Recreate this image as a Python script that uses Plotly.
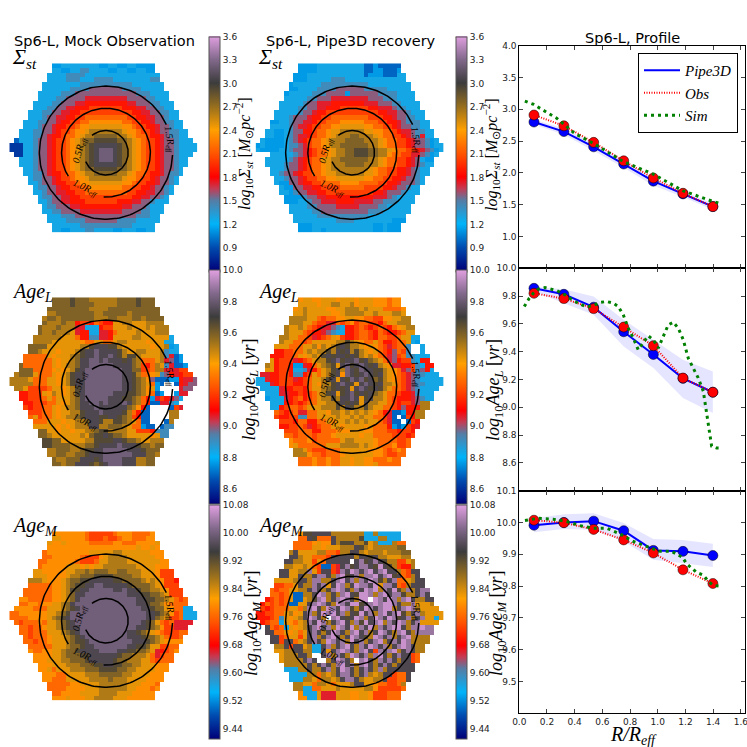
import numpy as np
import plotly.graph_objects as go

W = 747
CODES = "abcdefghijklmnopqrst"

SIGMA_OBS = ["ddeeeeeeeeddeeddeedddd","eeddeeffeeeeddeeddeedd","eeeeffffeeeeeeeeeeeeeeee","eeeefffeeeffffeeeeeeeeff",
"eeeeeeeefffffffffffeeeeeee","eeeeeeffffgggggggffffeeeee","eeeeefffgggggggggggggfffeeee","eeeeffgggghhhhhhhhhggggffeee",
"eeeeffggghhiiiiiiiiihhgggffeee","eeeffgghhiiijjjjjjjiiihhggffee","eeeffgghhiijjjjjjjjjjjiihhggffee","eeefgghhiijjkkkkkkkkkjjiihhggfee",
"eeeffgghiijjkklllllllkkjjiihggffee","eeefgghiijjkllmmmmmmmllkjjiihggfee","eeeffgghijjkllmnnnnnnnmllkjjihggffee","eeeffghiijkklmnnooooonnmlkkjiihgffee",
"ceeefgghijjklmnoopppppoonmlkjjihggfeee","bbbeefgghijjklmnopqqqqqponmlkjjihggfeeee","bbbeefgghijjklmnopqrrrqponmlkjjihggfeeee","bbeefgghijjklmnopqrrrqponmlkjjihggfeee",
"eeefgghijjklmnopqrrrqponmlkjjihggfee","eeefgghijjklmnopqqqqqponmlkjjihggfee","eefgghijjklmnoopppppoonmlkjjihggfe","eeffghiijkklmnnooooonnmlkkjiihgffe",
"effgghijjkllmnnnnnnnmllkjjihggfe","eefgghiijjkllmmmmmmmllkjjiihggfe","effgghiijjkklllllllkkjjiihggfe","eefgghhiijjkkkkkkkkkjjiihhggfe",
"effgghhiijjjjjjjjjjjiihhggfe","eefgghhiiijjjjjjjiiihhggfeee","effggghhiiiiiiiiihhgggfeee","eeffgggghhhhhhhhhggggffeee",
"eeefffgggggggggggggfffee","eeeeffffgggggggffffeeeee","eeeeeefffffffffffeeeee","eeddeeeffeeeeddeeeddee"]

SIGMA_P3D = ["ddddeeeeeeeeeeccdccccc","ddddeeeeeeeeeeccddcccd","dddeeeeeeeeeeeecdddcccee","dddeeeeefffeeeeeeeeeeeee",
"deeeeeeffffffffffeeeeeeeee","ddeeeeffffggggggfffffeeeee","deeeeefffggggdggggggffffeeee","eeeeeffggghhhhhhhhgggfffeeee",
"eeeeefgghhhiiiiiiihhhgggffeeee","eeeeffgghhiiijjjjjjiihhhgffeee","eeeeefgghiijjjjjjjjjjjiihhggfeee","eeefggghiijjkkkkkkkkjjjiihggffee",
"ddeefgghhijjkkklllllkkkjjiihgfffee","eeeefghhijjkkllmmmmmllkkjjihggffee","eeddefggiijkklmmnnnnnmmllkkjihhgffee","eeddefghhijkklmnnnoonnnmlkkjjihgfhee",
"eddddefghijkklmnnnoooonnnmlkkjjihggfde","deddddeffghjkklmnnoooooonnmlkkjjihggfdee","eddddeefgghijkklmnnoopppoonnmlkkjjihgfde","..eeeeefghijkklmnnoopppoonnlkkjjhhgfde",
"eeeeefghijkkmmnnoooooonnmlkkjjihgedd","eeeefgghijkklmnnnoooonnnmlkkjjihgfee","eeefgghijkklmnnnnnnnnmlkkjjiihgfee","eefgghijjkklmmnnnnnnmmlkkjjiihgfee",
"eefgghijjkkllmmmmmmllkkjjiihggfe","eddgghiijjkkkkllllkkkkjjiihgggfe","eddgghhiijjjjkkkkkjjjjiihggfee","eedfgghhiijjjjjjjjjjiihgggfeee",
"ddddfgghhiiiiiiiiiihhhgfeeee","dddeefgghhhiiiihhhhggfffeeee","eeeeffgggghhhhhggggffeeeee","eeeeeffggggggggggfffeeeeee",
"eeeeefffffffffffeeeeeeee","eeeeeeeeeffffeeeeeeeeddd","dddeeeeeeeeeeeeeddeddd","dddeedeeeeeeeeeeddeddd"]

AGEL_OBS = ["oooopooonnnnnnoooopooo","oooopoooonnnnnoooopooo","ooooooooonnnnooooooooooo","nnoooooooonnooooonoooooo",
"noonooooooonnnoonnnoonoooo","onnnonnijjikjiimmnnmmmnnnn","onnnonnnhheeeijjmmmnmmmnmnnn","onnonnnmhiieehhikmmmmnmmmnnn",
"nnnnnnmmmkiiffhhimmmmnnmmmmmme","nnnnmmmmmmlkkmmkkmnnmmmmlmmmee","oooommmmmmmnnpqqqppnmmmmmmlmmnde","oonmmmlmmmnpqqrqqqqpnmmnnmmmnfee",
"kkkkkmlmmmnopqqrqqrqpnppnmmmmnfhcd","kkkkkkmlmmnoqqrrqrqqqpqonkkkmnhgcd","okkkkkkmlmnnoqqrrrrrqqqqonjiknmfhccd","oookkkklmlmnpqrrrrrrrrqqoojjknnhhhjj",
"nooomkkkmlmnpqqrrrrrrrrqqpnkklmfgihijj","nnnnmkkkmmlmnpqqrrrrrrrrqqponlgcccddihhg","nnnnnkkkmmlmnpqqrrrrrrrrqqponmkdc..cihgg","nnmjjjjkmmlmnpqrrrrrrrrqqponlmd....hgg",
"iijjjmlnmlmnpqrrrrrrqqqpponlkcd..dhh","iijjjkmkmmmnoqrrrrrqqqpponkidhjihge","iijjjkkmlmnoqqrrqrqqqrqonkicchhfe","jijjkkmlmnnoqqqrqqqqqqonlic....cjh",
"jjjkkmlmmnnpqqqrqqqqpnkicc....nn","kmjkkmlmnnopqqqppqqponjicc....nn","kkkmmmlmmnnoqqpnnpponmkcc...cn","mmmmmlmlmnnnqqnnooonmkkdcc.cff",
"oommlmmlmmnnoppnnnnmmjjjifff","oonmmmmmmnmoppqpoonmmmmmlmff","ppoommmmmnnppppqqpoonmmnnn","ppoooonnnoopqqqqrqqqpoonoo",
"nnooonnoppqqrrrrrqqqpooo","nnoonnoopqqqrrrrrrqqqoon","onnoooqqqpqrrrrqqqnnoo","oonooqqqpopqrrrqqqnnoo"]

AGEL_P3D = ["lmmllmmmlmmmlmmmlllkll","mmmmlmmnnmmnlmmmlllkll","lmnmmmmllmmnnnmnmmmkkkkl","mmnmmmmmllmnnnnmmnmmmnnm",
"nnnnmmkjkkllmmllkkjjllmmnn","nnnmmkjjhhkjkljkkjjikmmnnn","nmmnmkjihhgfeiijkjijkjiklmnn","nmmmkjiihgfeeiijkkjikjiijkmm",
"nnmmkkjhijkmljiijkkjikkjjkmmee","nmmkkjkmmmmmnnpnmlkkmkiijkkmed","mmmkkkmmnlnmnpqpnnmlmlkjhjkkf..e","iijjkkmnmnnpnqpqnpnmlmkjigkjf..e",
"iiijjkmlmnmpqpqqpqpnmnlkjhgjkffeee","mijjjhijkmnnpqrpqqrpqonmkhgijjfeii","nmijjiddhikmnopmqrpqrqpqnmlhhiijfeii","mmijjieefhikmnpqnrqprqqppnmlkhgjfgie",
"hhiijjiffijmkmnpqlrqpqrqpqnmlkjhgffeee","eehiijjjhijkmmnpqmqprqrpqopnmlkjhgfeeeee","eeehijjjiijkmlnnpqrqpmqrqpqnnmkjhgffeeee","eeeehiijjikmmnopqpqmqrqpqpnmkkjhgfeeee",
"eeehhiijijkmnpqmpqrpqpqonmkkjiihfeee","deeehijkijkmnnpnqqrqmpqnnmkjiiihgfee","eeeiijijkkmmnnpqpqpmqnnmmkjijjhgnn","eeijkkjkmmmnnnpnqpnnpnmmkkjigiiinn",
"kjijkhhkkmmlnnmnmnmnmlkihccdiinn","jiijjffkkmmmmnmmnmnmmkkjhc.cjinn","jjjikkiikkmlmmnmnmnmmkjhcc.cji","iijjkjhijkkmmlmmmmlmkkkidcdjih",
"jjjkkkiikkklllmmmllkkkjjijji","kkjkkkjkkklmmmmmlmmkkkkjjjij","lkkkljkkkkkmnnmmmmlkkkkjjk","lmkkkkkkmmmnnnnmnmlkkkljjk",
"nnmkjjjkkkmmmmmmlllkjklk","nnnlkkjkkklmmmmmmllkjjkk","kkklkklkkmmlmmllkkklkk","kkklkklkkmmlmmllmkkkkk"]

AGEM_OBS = ["lllllllkjjjjjklllkkkkl","mmlllllkjjjkjjkllkkkll","mllmlllllkkkkkllkkkllllm","lllllllllllllllllllmllml",
"klllllllllmmmmmnnmmmmmmlll","kkllllllkjjjlmnnnnmmmmmmll","kkllllllkjjjkmmnnnnmmmmmmmll","klllllmmmlmlmmnnnnnnnmmmmlll",
"mmlllllmmnnonooonnoonnnmmmljjj","mmmllllmnnoooppppoooonnmmmljjj","nnnmlllmnooppqqqqqppoooonmnmljji","kkkkkllmnoppqqrrqqqqqpoooonmljjj",
"kkkkkkllmnppqqrrrrrqqrqqpoonnmljjj","kkkkkkllmnoqqrrrrrrrrrqqqppoonmjjj","llkkkkkllmnoqrrrrrrrrrrrrqqppoonmkjk","kkllkllmmnoqrrrrrrrrrrrrrqqpoonlkkkk",
"llllkkkmmmnopqrrrrrrrrrrrrrqqpoomlkkee","kkllllllmmnoprrrrrrrrrrrrrrrrqqponljkeee","kkkkllllmnopqrrrrrrrrrrrrrrrrqqonmjjkeee","kjkkklkmmnopqrrrrrrrrrrrrrrqpomkjkhhhh",
"kkjkklmmnopqqrrrrrrrrrrrrqqponljjhhh","kkjkkkmmmnopqrrrrrrrrrrqqponmlkjjjkk","kjkkklmmmnopqrrrrrrrrrqqqpoonmkjjk","kkjkklmmmnoppqrrrrrrrrrqqqponmllll",
"kkkkkmmmnoopqqrrrrrrrqqppommjjkk","lkkllmmnoopqqqqrrrrqqppoonmhijkl","llllmmnoooppqqqqqqpoonnnmkhjkk","lllmmmnnooopqqqqqpoonnnmmkjkkk",
"lllmmmnnnoooppqqppoonnmmmlll","llmkmmmnnnoooppppoonnmmmmlll","lllkkmmmmnnnooooonnmmmmlll","llkkkmmmmmnnnnonnnmmmmllll",
"kkkkkllmmmmnnnnnnmmmlllk","kkkkllllmmmnnnnnnmmlllkl","kkllllmmmmnnnnmmmlllll","lllmlllmmnnnnmmmllllll"]

AGEM_P3D = ["lppqqqqnnnnnnneeneeeee","kkqpkkkqnnnnnpeeenneee","kkkklmllqnppqnnpmneeenkk","kkkkmmlmmmnnnqpnmnnnnnoo",
"nqmmmmnnkkjnnqqnmnnnmnnnoo","qqnmmkkkjqqqqqnqqpqnnmmmnn","qqnnmmjmkqqqqq.qspqsqpnnjjmn","nnmmnmkjccjhqspqssqptqpnjiin",
"qqmmnnsmjqqjhsqtsqstqstqqnkjqq","qqmmqnnqssqnstpqsnsstqstpqkjnq","mmmmnqqnssnnqstqsnsqtspnqskkmnqq","jjkkmqnnsqsmqtsnqtssqtmssqkjnqqq",
"kjkkmmnnqsqnpstsqnsqtstnsqtpnsnqss","kkjkmccnnqtsnqnstqpttsnstqsspnnqsq","ijkjkmccmnpstnqstsqntt.tsqtsnstqnnqq","ikjkjkccmmqstsqntsqttpqstst tsqnnsmmmn".replace(" ",""),
"jijkkkmmknstqntsqtspnqtsqsttnqstsnmmmmm"[:38],"iijjkkmnlmqsnqtstqsnqptqsnstqstpnqsnmmmm","iiijkfmlmnqtsqn.stqpqtsnqtsqtspqsnqsmmem","ijkkemlkmnsqtsnqstqnsptqstnsqtsnqsmmmm",
"qkjkemlmnqstqsntsqtnsqtnsqsttqnsstss"[:36],"qqkkmlmkmqsqnqtsqnstqsnqtsqnstqnssss","qqjkmmjmqsnqstqnqtsqpntsqsnqstnnnn","qqjqqkmnqsqntsqsntqsnqstnqsqtsnnnn",
"nnqjqqmneeqsnqstqnsqtsqsnqstsqnn","mmnnqqnneeqmqstsqnstqjsqstnqsqnn","mnnnqqn..qsnsqntsqsnstqnqsqqjk","mnnnnqsq..nqtsqn.stqnsqsqnqqjk",
"nnnnnqnqsqnstqsnstqnqsqnqqqq","eeennqnnqsnqtsqnqsqnsnqqqqqq","eeeennknmnqssqnqsnmnqqjkkq","eeennmknnmnqssqnmmnnqjjkkq",
"nnmmknnmkmmmnqqmmlkkjjkn","nneekkmmmnmmmmmnnljjjjjk","leeemhhhmmmllmmljjjkkk","lleemhhhmmmllmmljjjkkk"]

SIGMA_RANGE = (0.6, 3.6)
AGEL_RANGE = (8.5, 10.0)
AGEM_RANGE = (9.41, 10.08)
SIGMA_TICKS = [0.9, 1.2, 1.5, 1.8, 2.1, 2.4, 2.7, 3.0, 3.3, 3.6]
AGEL_TICKS = [8.6, 8.8, 9.0, 9.2, 9.4, 9.6, 9.8, 10.0]
AGEM_TICKS = [9.44, 9.52, 9.60, 9.68, 9.76, 9.84, 9.92, 10.00, 10.08]

COLORS = [[0, "rgb(0,0,120)"], [0.1, "rgb(0,75,175)"], [0.2, "rgb(0,180,250)"], [0.3, "rgb(85,125,165)"],
          [0.35, "rgb(195,60,85)"], [0.4, "rgb(255,0,0)"], [0.5, "rgb(255,85,0)"], [0.6, "rgb(255,160,0)"],
          [0.7, "rgb(150,110,30)"], [0.8, "rgb(60,60,60)"], [0.9, "rgb(130,105,140)"], [1, "rgb(225,160,225)"]]

R_PROFILE = [0.106, 0.322, 0.537, 0.754, 0.968, 1.182, 1.398]

P1_PIPE = [2.80, 2.65, 2.41, 2.14, 1.87, 1.67, 1.47]
P1_OBS = [2.91, 2.74, 2.48, 2.19, 1.92, 1.68, 1.47]
P1_UP = [2.84, 2.70, 2.47, 2.19, 1.92, 1.71, 1.52]
P1_LOW = [2.76, 2.60, 2.35, 2.08, 1.80, 1.62, 1.42]
P1_SIM_R = [0.04, 0.10, 0.27, 0.40, 0.535, 0.75, 0.968, 1.18, 1.40, 1.46]
P1_SIM = [3.13, 3.08, 2.86, 2.62, 2.465, 2.18, 1.98, 1.72, 1.55, 1.515]

P2_PIPE = [9.856, 9.813, 9.72, 9.543, 9.38, 9.208, 9.108]
P2_OBS = [9.82, 9.782, 9.71, 9.577, 9.443, 9.21, 9.108]
P2_UP = [9.868, 9.85, 9.797, 9.63, 9.486, 9.342, 9.258]
P2_LOW = [9.833, 9.749, 9.665, 9.438, 9.282, 9.067, 8.959]
P2_SIM_R = [.036, .072, .101, .137, .185, .27, .33, .39, .438, .486, .534, .582, .631, .679, .715, .751, .787, .823, .859, .895,
            .931, .967, 1.004, 1.04, 1.076, 1.112, 1.148, 1.184, 1.22, 1.256, 1.292, 1.329, 1.353, 1.365, 1.377, 1.389, 1.425, 1.466]
P2_SIM = [9.725, 9.785, 9.82, 9.85, 9.861, 9.84, 9.809, 9.768, 9.742, 9.722, 9.732, 9.754, 9.761, 9.749, 9.725, 9.665, 9.569, 9.498,
          9.414, 9.462, 9.514, 9.486, 9.426, 9.51, 9.593, 9.612, 9.569, 9.486, 9.354, 9.282, 9.211, 9.115, 8.959, 8.876, 8.792, 8.72, 8.706, 8.706]

P3_PIPE = [9.991, 10.0, 10.004, 9.974, 9.912, 9.909, 9.896]
P3_OBS = [10.007, 9.999, 9.978, 9.945, 9.904, 9.851, 9.808]
P3_UP = [10.013, 10.026, 10.029, 9.998, 9.948, 9.945, 9.933]
P3_LOW = [9.969, 9.979, 9.977, 9.94, 9.883, 9.872, 9.86]
P3_SIM_R = [.041, .137, .245, .342, .438, .534, .631, .727, .823, .919, 1.016, 1.1, 1.179, 1.208, 1.28, 1.329, 1.365, 1.401, 1.449]
P3_SIM = [10.006, 10.013, 10.01, 10.003, 9.99, 9.982, 9.982, 9.964, 9.94, 9.924, 9.909, 9.909, 9.89, 9.87, 9.843, 9.834, 9.815, 9.802, 9.8]

CONTOUR_LEVELS = [0.5, 1.0, 1.5]
CONTOUR_GAPS = [(129, 204), (212, 267), (-2, 25)]
CONTOUR_TEXT = ["0.5R<sub>eff</sub>", "1.0R<sub>eff</sub>", "1.5R<sub>eff</sub>"]
CONTOUR_TEXT_OFFSET = [(-5.67, -0.57), (-4.26, 7.6), (13.6, -2.7)]
CONTOUR_TEXT_ANGLE = [-75, 25, 80]

SERIF = "Liberation Serif"
SANS = "DejaVu Sans"

def xf(p):
    return p / W

def yf(p):
    return 1 - p / W

def decode(rows, rng):
    lo, hi = rng
    out = []
    for row in rows:
        full = row.center(40)
        out.append([None if (c == " " or c == ".") else lo + (CODES.index(c) + 0.5) / 20 * (hi - lo) for c in full])
    return out

fig = go.Figure()
layout = {}
annotations = []
shapes = []

HEX_X = [9.3, 255.6]
CB_X = [209.0, 455.7]
LABEL_X = {0: [244, 249.5, 252], 1: [491, 494, 497]}
LABEL_SIZE = [16, 18, 18]
ROW_DY = [0, 234, 468]
CB_TOP = [36.5, 270.3, 505]
CB_BOT = [271, 504, 739]
RE_CELLS = 44.4 / 4.7
CX, CY = 20.07, 18.52
TAG_SIZE = [22, 20, 20]

panels = [
    (0, 0, SIGMA_OBS, SIGMA_RANGE, SIGMA_TICKS, "Σ<sub>st</sub>", "<i>log</i><sub>10</sub><i>Σ<sub>st</sub></i> [<i>M</i><sub>⊙</sub><i>pc</i><sup>−2</sup>]"),
    (0, 1, SIGMA_P3D, SIGMA_RANGE, SIGMA_TICKS, "Σ<sub>st</sub>", "<i>log</i><sub>10</sub><i>Σ<sub>st</sub></i> [<i>M</i><sub>⊙</sub><i>pc</i><sup>−2</sup>]"),
    (1, 0, AGEL_OBS, AGEL_RANGE, AGEL_TICKS, "Age<sub>L</sub>", "<i>log</i><sub>10</sub><i>Age<sub>L</sub></i> [<i>yr</i>]"),
    (1, 1, AGEL_P3D, AGEL_RANGE, AGEL_TICKS, "Age<sub>L</sub>", "<i>log</i><sub>10</sub><i>Age<sub>L</sub></i> [<i>yr</i>]"),
    (2, 0, AGEM_OBS, AGEM_RANGE, AGEM_TICKS, "Age<sub>M</sub>", "<i>log</i><sub>10</sub><i>Age<sub>M</sub></i> [<i>yr</i>]"),
    (2, 1, AGEM_P3D, AGEM_RANGE, AGEM_TICKS, "Age<sub>M</sub>", "<i>log</i><sub>10</sub><i>Age<sub>M</sub></i> [<i>yr</i>]"),
]

for i, (row, col, grid, rng, ticks, tag, cblabel) in enumerate(panels, start=1):
    x0 = HEX_X[col]
    y0 = 63.3 + ROW_DY[row]
    layout[f"xaxis{i}"] = dict(domain=[xf(x0), xf(x0 + 188)], range=[-0.5, 39.5], visible=False, anchor=f"y{i}")
    layout[f"yaxis{i}"] = dict(domain=[yf(y0 + 169.2), yf(y0)], range=[35.5, -0.5], visible=False, anchor=f"x{i}")
    top, bot = CB_TOP[row], CB_BOT[row]
    fig.add_trace(go.Heatmap(
        z=decode(grid, rng), xaxis=f"x{i}", yaxis=f"y{i}", colorscale=COLORS, zmin=rng[0], zmax=rng[1],
        hoverongaps=False, hoverinfo="skip",
        colorbar=dict(x=xf(CB_X[col]), xanchor="left", y=yf(top), yanchor="top", len=(bot - top) / W, lenmode="fraction",
                      thickness=11, thicknessmode="pixels", xpad=0, ypad=0, outlinewidth=1, outlinecolor="#555555",
                      tickvals=ticks, ticktext=[(f"{t:.2f}" if rng == AGEM_RANGE else f"{t:.1f}") for t in ticks],
                      ticks="", tickfont=dict(family=SANS, size=9, color="#222222")),
    ))
    shapes.append(dict(type="line", xref="paper", yref="paper", x0=xf(CB_X[col]), x1=xf(CB_X[col] + 11), y0=yf(top + 1), y1=yf(top + 1),
                       line=dict(color="#e08a10", width=1.5)))
    for level, gap, text, off, ang in zip(CONTOUR_LEVELS, CONTOUR_GAPS, CONTOUR_TEXT, CONTOUR_TEXT_OFFSET, CONTOUR_TEXT_ANGLE):
        theta = np.radians(np.linspace(gap[1], gap[0] + 360, 180))
        fig.add_trace(go.Scatter(x=CX + level * RE_CELLS * np.cos(theta), y=CY - level * RE_CELLS * np.sin(theta),
                                 xaxis=f"x{i}", yaxis=f"y{i}", mode="lines", line=dict(color="black", width=1.5),
                                 showlegend=False, hoverinfo="skip"))
        annotations.append(dict(xref=f"x{i}", yref=f"y{i}", x=CX + off[0], y=CY + off[1], text=f"<i>{text}</i>", textangle=ang,
                                showarrow=False, xanchor="center", yanchor="middle", font=dict(family=SERIF, size=10, color="black")))
    annotations.append(dict(xref="paper", yref="paper", x=xf(10 + col * 246), y=yf(58 + ROW_DY[row]), xanchor="left", yanchor="middle",
                            text=f"<i>{tag}</i>", showarrow=False, font=dict(family=SERIF, size=TAG_SIZE[row], color="black")))
    annotations.append(dict(xref="paper", yref="paper", x=xf(LABEL_X[col][row]), y=yf([154, 390, 623][row]), textangle=-90,
                            xanchor="center", yanchor="middle",
                            text=cblabel, showarrow=False, font=dict(family=SERIF, size=LABEL_SIZE[row], color="black")))

prof_rows = [
    (45.7, 268.3, (0.5, 4.0), [1.0, 1.5, 2.0, 2.5, 3.0, 3.5, 4.0], P1_PIPE, P1_OBS, P1_UP, P1_LOW, P1_SIM_R, P1_SIM),
    (268.3, 490.6, (8.4, 10.0), [8.6, 8.8, 9.0, 9.2, 9.4, 9.6, 9.8, 10.0], P2_PIPE, P2_OBS, P2_UP, P2_LOW, P2_SIM_R, P2_SIM),
    (490.6, 713.3, (9.4, 10.1), [9.5, 9.6, 9.7, 9.8, 9.9, 10.0, 10.1], P3_PIPE, P3_OBS, P3_UP, P3_LOW, P3_SIM_R, P3_SIM),
]
XTICKS = [0.0, 0.2, 0.4, 0.6, 0.8, 1.0, 1.2, 1.4, 1.6]

for k, (top, bot, yr, yt, pipe, obs, up, low, simr, sim) in enumerate(prof_rows):
    i = 7 + k
    xa, ya = f"x{i}", f"y{i}"
    layout[f"xaxis{i}"] = dict(domain=[xf(519.3), xf(745)], range=[0, 1.63], anchor=ya, mirror="allticks", ticks="inside", ticklen=4,
                               showline=True, linecolor="black", linewidth=1, showgrid=False, zeroline=False, tickvals=XTICKS,
                               ticktext=[f"{v:.1f}" for v in XTICKS], showticklabels=(k == 2), ticklabeloverflow="allow",
                               tickfont=dict(family=SANS, size=9, color="#222222"))
    layout[f"yaxis{i}"] = dict(domain=[yf(bot), yf(top)], range=list(yr), anchor=xa, mirror="allticks", ticks="inside", ticklen=4,
                               showline=True, linecolor="black", linewidth=1, showgrid=False, zeroline=False, tickvals=yt,
                               ticktext=[f"{v:.1f}" for v in yt], tickfont=dict(family=SANS, size=9, color="#222222"))
    fig.add_trace(go.Scatter(x=R_PROFILE + R_PROFILE[::-1], y=up + low[::-1], fill="toself", fillcolor="rgba(0,0,255,0.1)",
                             line=dict(width=0), mode="lines", xaxis=xa, yaxis=ya, showlegend=False, hoverinfo="skip"))
    first = k == 0
    fig.add_trace(go.Scatter(x=R_PROFILE, y=pipe, mode="lines", line=dict(color="blue", width=2), xaxis=xa, yaxis=ya,
                             name="<i>Pipe3D</i>", showlegend=first, hoverinfo="skip"))
    fig.add_trace(go.Scatter(x=R_PROFILE, y=pipe, mode="markers", marker=dict(color="blue", size=10, line=dict(color="black", width=0.5)),
                             xaxis=xa, yaxis=ya, showlegend=False, hoverinfo="skip"))
    fig.add_trace(go.Scatter(x=R_PROFILE, y=obs, mode="lines", line=dict(color="red", width=2, dash="1px,1.5px"), xaxis=xa, yaxis=ya,
                             name="<i>Obs</i>", showlegend=first, hoverinfo="skip"))
    fig.add_trace(go.Scatter(x=R_PROFILE, y=obs, mode="markers", marker=dict(color="red", size=10, line=dict(color="black", width=0.5)),
                             xaxis=xa, yaxis=ya, showlegend=False, hoverinfo="skip"))
    fig.add_trace(go.Scatter(x=simr, y=sim, mode="lines", line=dict(color="green", width=3, dash="3px,4px"), xaxis=xa, yaxis=ya,
                             name="<i>Sim</i>", showlegend=first, hoverinfo="skip"))

annotations.append(dict(xref="paper", yref="paper", x=xf(633), y=yf(735), text="<i>R/R<sub>eff</sub></i>", showarrow=False,
                        xanchor="center", yanchor="middle", font=dict(family=SERIF, size=20, color="black")))
for text, cx, cy in [("Sp6-L, Mock Observation", 104.5, 41), ("Sp6-L, Pipe3D recovery", 351, 41), ("Sp6-L, Profile", 632, 38)]:
    annotations.append(dict(xref="paper", yref="paper", x=xf(cx), y=yf(cy), text=text, showarrow=False,
                            xanchor="center", yanchor="middle", font=dict(family=SANS, size=14.5, color="black")))

fig.update_layout(
    width=W, height=W, margin=dict(l=0, r=0, t=0, b=0, autoexpand=False), paper_bgcolor="white", plot_bgcolor="white",
    annotations=annotations, shapes=shapes,
    legend=dict(x=xf(638), y=yf(53), xanchor="left", yanchor="top", bgcolor="white", bordercolor="black", borderwidth=1,
                font=dict(family=SERIF, size=15, color="black"), itemwidth=36, entrywidth=46, entrywidthmode="pixels", tracegroupgap=0),
    **layout,
)
fig.write_html("out.html", config=dict(displayModeBar=False), post_script="document.body.style.margin='0';")
